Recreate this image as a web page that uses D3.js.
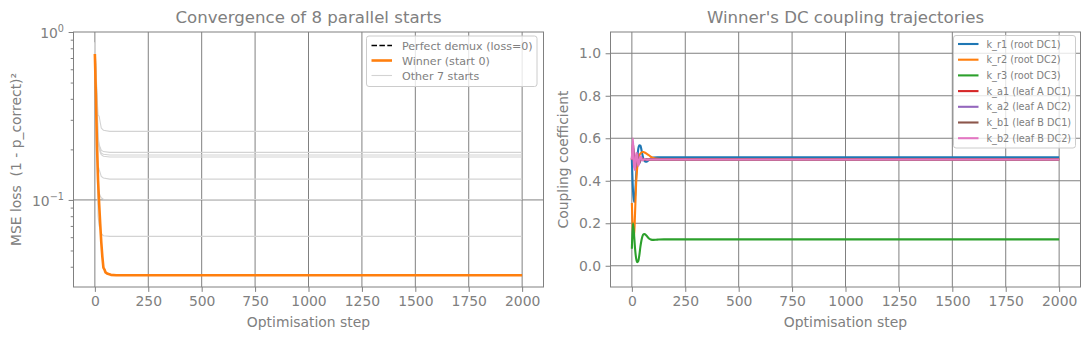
<!DOCTYPE html>
<html>
<head>
<meta charset="utf-8">
<script src="https://cdn.jsdelivr.net/npm/d3@7"></script>
<style>
  html, body { margin: 0; padding: 0; background: #fff; }
  svg { display: block; font-family: "DejaVu Sans", sans-serif; }
  text { white-space: pre; }
</style>
</head>
<body>
<svg id="fig" width="1089" height="340"></svg>
<script>
// ---------------- data ----------------
// Loss curves (left panel)
const winnerSteps = [0, 5, 10, 15, 20, 25, 30, 35, 40, 45, 50, 60, 75, 100, 2000];
const winnerLoss  = [0.74, 0.41, 0.21, 0.13, 0.095, 0.072, 0.056, 0.046, 0.0395, 0.0385, 0.037, 0.0363, 0.0358, 0.0356, 0.0356];

const otherSteps = [0, 5, 10, 15, 20, 25, 30, 40, 70, 2000];
const otherLossA = [0.87, 0.62, 0.42, 0.32, 0.315, 0.29, 0.268, 0.26, 0.256, 0.256];
const otherLossB = [0.87, 0.60, 0.40, 0.24, 0.215, 0.205, 0.198, 0.194, 0.192, 0.192];
const otherLossC = [0.86, 0.58, 0.38, 0.23, 0.21, 0.198, 0.19, 0.187, 0.185, 0.185];
const otherLossD = [0.85, 0.56, 0.36, 0.22, 0.205, 0.192, 0.186, 0.182, 0.18, 0.18];
const otherLossE = [0.86, 0.55, 0.30, 0.16, 0.152, 0.145, 0.138, 0.135, 0.133, 0.133];
const otherLossF = [0.86, 0.50, 0.25, 0.12, 0.11, 0.106, 0.103, 0.101, 0.1005, 0.1005];
const otherLossG = [0.85, 0.45, 0.20, 0.08, 0.07, 0.067, 0.063, 0.0612, 0.0607, 0.0607];
const otherLosses = [otherLossA, otherLossB, otherLossC, otherLossD, otherLossE, otherLossF, otherLossG];

const lossLegendLabels = ["Perfect demux (loss=0)", "Winner (start 0)", "Other 7 starts"];

// Coupling trajectories (right panel)
const kSteps = [0, 5, 10, 15, 20, 25, 30, 35, 40, 45, 50, 55, 60, 70, 80, 90, 100, 120, 150, 2000];
const k_r1 = [0.50, 0.36, 0.30, 0.33, 0.42, 0.50, 0.55, 0.567, 0.565, 0.545, 0.52, 0.50, 0.492, 0.49, 0.498, 0.505, 0.509, 0.51, 0.51, 0.51];
const k_r2 = [0.295, 0.16, 0.13, 0.25, 0.39, 0.46, 0.50, 0.52, 0.528, 0.533, 0.535, 0.535, 0.533, 0.527, 0.52, 0.512, 0.507, 0.503, 0.502, 0.502];
const k_r3 = [0.08, 0.20, 0.15, 0.08, 0.035, 0.017, 0.022, 0.05, 0.09, 0.12, 0.14, 0.148, 0.149, 0.14, 0.128, 0.123, 0.122, 0.123, 0.124, 0.124];
const k_a1 = [0.50, 0.55, 0.49, 0.47, 0.51, 0.52, 0.495, 0.49, 0.505, 0.502, 0.498, 0.50, 0.50, 0.50, 0.50, 0.50, 0.50, 0.50, 0.50, 0.50];
const k_a2 = [0.50, 0.56, 0.52, 0.46, 0.48, 0.53, 0.51, 0.48, 0.495, 0.51, 0.50, 0.498, 0.50, 0.50, 0.50, 0.50, 0.50, 0.50, 0.50, 0.50];
const k_b1 = [0.50, 0.58, 0.50, 0.455, 0.50, 0.525, 0.50, 0.485, 0.50, 0.505, 0.50, 0.50, 0.50, 0.50, 0.50, 0.50, 0.50, 0.50, 0.50, 0.50];
const k_b2 = [0.50, 0.60, 0.47, 0.45, 0.53, 0.52, 0.47, 0.49, 0.515, 0.505, 0.495, 0.50, 0.502, 0.499, 0.50, 0.50, 0.50, 0.50, 0.50, 0.50];
const kSeries = [k_r1, k_r2, k_r3, k_a1, k_a2, k_b1, k_b2];
const kLabels = ["k_r1 (root DC1)", "k_r2 (root DC2)", "k_r3 (root DC3)", "k_a1 (leaf A DC1)",
                 "k_a2 (leaf A DC2)", "k_b1 (leaf B DC1)", "k_b2 (leaf B DC2)"];
const kColors = ["#1f77b4", "#ff7f0e", "#2ca02c", "#d62728", "#9467bd", "#8c564b", "#e377c2"];

const stepTicks = [0, 250, 500, 750, 1000, 1250, 1500, 1750, 2000];
const kTicks = [0.0, 0.2, 0.4, 0.6, 0.8, 1.0];

// ---------------- styling ----------------
const TXT = "#808080";
const GRID = "#808080";
const svg = d3.select("#fig");

function panelFrame(g, x0, x1, y0, y1) {
  g.append("rect").attr("x", x0).attr("y", y0).attr("width", x1 - x0).attr("height", y1 - y0)
    .attr("fill", "none").attr("stroke", GRID).attr("stroke-width", 1);
}

// ================= left panel: loss (log scale) =================
const L = { x0: 73.5, x1: 543.5, y0: 32, y1: 287 };
const xL = d3.scaleLinear().domain([-100, 2100]).range([L.x0, L.x1]);
const yL = d3.scaleLog().domain([0.0303, 1.0]).range([L.y1, L.y0]);
const gL = svg.append("g");

// grid
gL.selectAll(".vg").data(stepTicks).join("line")
  .attr("x1", d => xL(d)).attr("x2", d => xL(d)).attr("y1", L.y0).attr("y2", L.y1)
  .attr("stroke", GRID).attr("stroke-width", 1);
gL.selectAll(".hg").data([0.1]).join("line")
  .attr("x1", L.x0).attr("x2", L.x1).attr("y1", d => yL(d)).attr("y2", d => yL(d))
  .attr("stroke", GRID).attr("stroke-width", 1);

// other starts
const lineL = d3.line().x((d, i) => xL(otherSteps[i])).y(d => yL(d));
otherLosses.forEach(s => {
  gL.append("path").attr("d", lineL(s)).attr("fill", "none")
    .attr("stroke", "#d3d3d3").attr("stroke-width", 1.1);
});
// winner
const lineW = d3.line().x((d, i) => xL(winnerSteps[i])).y(d => yL(d));
gL.append("path").attr("d", lineW(winnerLoss)).attr("fill", "none")
  .attr("stroke", "#ff7f0e").attr("stroke-width", 2.6).attr("stroke-linejoin", "round");

panelFrame(gL, L.x0, L.x1, L.y0, L.y1);

// x axis
const axL = gL.append("g").attr("transform", `translate(0,${L.y1})`)
  .call(d3.axisBottom(xL).tickValues(stepTicks).tickSize(4.9).tickPadding(4.5).tickFormat(d3.format("d")));
// y axis (major + minor ticks)
const minorL = [0.04, 0.05, 0.06, 0.07, 0.08, 0.09, 0.2, 0.3, 0.4, 0.5, 0.6, 0.7, 0.8, 0.9];
const ayLminor = gL.append("g").attr("transform", `translate(${L.x0},0)`)
  .call(d3.axisLeft(yL).tickValues(minorL).tickSize(2.8).tickFormat(""));
const ayL = gL.append("g").attr("transform", `translate(${L.x0},0)`)
  .call(d3.axisLeft(yL).tickValues([0.1, 1]).tickSize(4.9).tickPadding(4.5).tickFormat(""));
[axL, ayLminor, ayL].forEach(a => {
  a.select(".domain").remove();
  a.selectAll("line").attr("stroke", GRID);
  a.selectAll("text").attr("fill", TXT).attr("font-size", 13.9).attr("font-family", "DejaVu Sans");
});
// log tick labels with superscripts
[[1, "0"], [0.1, "\u22121"]].forEach(([v, e]) => {
  const t = gL.append("text").attr("x", L.x0 - 9.5).attr("y", yL(v) + 6)
    .attr("text-anchor", "end").attr("fill", TXT).attr("font-size", 13.9);
  t.append("tspan").text("10");
  t.append("tspan").attr("dy", -6).attr("font-size", 9.7).text(e);
});

// titles and labels
svg.append("text").attr("x", (L.x0 + L.x1) / 2).attr("y", 22.5).attr("text-anchor", "middle")
  .attr("fill", TXT).attr("font-size", 16.6).text("Convergence of 8 parallel starts");
svg.append("text").attr("x", (L.x0 + L.x1) / 2).attr("y", 327).attr("text-anchor", "middle")
  .attr("fill", TXT).attr("font-size", 13.9).text("Optimisation step");
svg.append("text").attr("transform", `translate(21,${(L.y0 + L.y1) / 2}) rotate(-90)`)
  .attr("text-anchor", "middle").attr("fill", TXT).attr("font-size", 13.9)
  .text("MSE loss  (1 - p_correct)\u00b2");

// legend (left)
const lgL = svg.append("g").attr("transform", "translate(366.5,36)");
lgL.append("rect").attr("width", 170.5).attr("height", 50.5).attr("rx", 2.5)
  .attr("fill", "#fff").attr("fill-opacity", 0.8).attr("stroke", "#cccccc").attr("stroke-width", 1);
const legL = [
  { stroke: "#000", width: 1.5, dash: "5.5,2.4" },
  { stroke: "#ff7f0e", width: 2.6, dash: null },
  { stroke: "#d3d3d3", width: 1.1, dash: null }
];
legL.forEach((s, i) => {
  const yy = 9.5 + i * 15;
  lgL.append("line").attr("x1", 5).attr("x2", 25.5).attr("y1", yy).attr("y2", yy)
    .attr("stroke", s.stroke).attr("stroke-width", s.width).attr("stroke-dasharray", s.dash);
  lgL.append("text").attr("x", 35.5).attr("y", yy + 4).attr("fill", TXT).attr("font-size", 11.1)
    .text(lossLegendLabels[i]);
});

// ================= right panel: couplings =================
const R = { x0: 610.5, x1: 1080.5, y0: 32, y1: 287 };
const xR = d3.scaleLinear().domain([-100, 2100]).range([R.x0, R.x1]);
const yR = d3.scaleLinear().domain([-0.1, 1.1]).range([R.y1, R.y0]);
const gR = svg.append("g");

gR.selectAll(".vg").data(stepTicks).join("line")
  .attr("x1", d => xR(d)).attr("x2", d => xR(d)).attr("y1", R.y0).attr("y2", R.y1)
  .attr("stroke", GRID).attr("stroke-width", 1);
gR.selectAll(".hg").data(kTicks).join("line")
  .attr("x1", R.x0).attr("x2", R.x1).attr("y1", d => yR(d)).attr("y2", d => yR(d))
  .attr("stroke", GRID).attr("stroke-width", 1);

const lineR = d3.line().x((d, i) => xR(kSteps[i])).y(d => yR(d)).curve(d3.curveMonotoneX);
kSeries.forEach((s, i) => {
  gR.append("path").attr("d", lineR(s)).attr("fill", "none")
    .attr("stroke", kColors[i]).attr("stroke-width", 2.1).attr("stroke-linejoin", "round");
});

panelFrame(gR, R.x0, R.x1, R.y0, R.y1);

const axR = gR.append("g").attr("transform", `translate(0,${R.y1})`)
  .call(d3.axisBottom(xR).tickValues(stepTicks).tickSize(4.9).tickPadding(4.5).tickFormat(d3.format("d")));
const ayR = gR.append("g").attr("transform", `translate(${R.x0},0)`)
  .call(d3.axisLeft(yR).tickValues(kTicks).tickSize(4.9).tickPadding(4.5).tickFormat(d3.format(".1f")));
[axR, ayR].forEach(a => {
  a.select(".domain").remove();
  a.selectAll("line").attr("stroke", GRID);
  a.selectAll("text").attr("fill", TXT).attr("font-size", 13.9).attr("font-family", "DejaVu Sans");
});

svg.append("text").attr("x", (R.x0 + R.x1) / 2).attr("y", 22.5).attr("text-anchor", "middle")
  .attr("fill", TXT).attr("font-size", 16.6).text("Winner's DC coupling trajectories");
svg.append("text").attr("x", (R.x0 + R.x1) / 2).attr("y", 327).attr("text-anchor", "middle")
  .attr("fill", TXT).attr("font-size", 13.9).text("Optimisation step");
svg.append("text").attr("transform", `translate(568,${(R.y0 + R.y1) / 2}) rotate(-90)`)
  .attr("text-anchor", "middle").attr("fill", TXT).attr("font-size", 13.9)
  .text("Coupling coefficient");

// legend (right)
const lgR = svg.append("g").attr("transform", "translate(953.5,35.5)");
lgR.append("rect").attr("width", 122).attr("height", 112.5).attr("rx", 2.5)
  .attr("fill", "#fff").attr("fill-opacity", 0.8).attr("stroke", "#cccccc").attr("stroke-width", 1);
kLabels.forEach((lab, i) => {
  const yy = 8.5 + i * 15.7;
  lgR.append("line").attr("x1", 4.5).attr("x2", 25).attr("y1", yy).attr("y2", yy)
    .attr("stroke", kColors[i]).attr("stroke-width", 2.1);
  lgR.append("text").attr("x", 33).attr("y", yy + 3.5).attr("fill", TXT).attr("font-size", 9.7)
    .text(lab);
});
</script>
</body>
</html>
